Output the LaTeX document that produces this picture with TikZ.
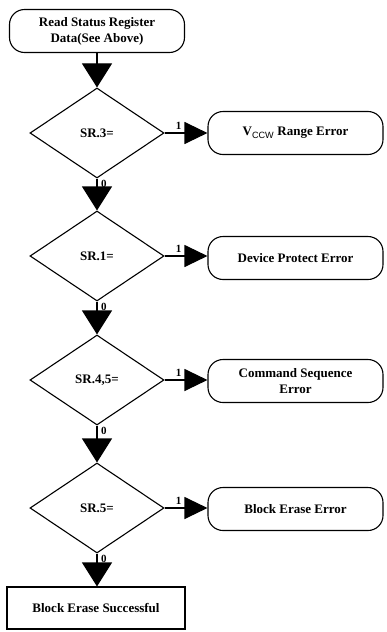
\documentclass[tikz,border=0pt]{standalone}
\usepackage{fontspec}
\setmainfont{Liberation Serif}
\setsansfont{Liberation Sans}
\usetikzlibrary{shapes.geometric,arrows.meta}
\begin{document}
\begin{tikzpicture}[x=1pt,y=-1pt,
  every node/.style={font=\bfseries\fontsize{13}{16}\selectfont},
  rbox/.style={draw,line width=1.1pt,rounded corners=15pt,minimum width=175pt,minimum height=43pt,align=center,inner sep=2pt},
  pbox/.style={draw,line width=1.1pt,minimum width=178pt,minimum height=42pt,align=center},
  dec/.style={draw,line width=1.1pt,shape=diamond,minimum width=134pt,minimum height=90pt,inner sep=0pt},
  vline/.style={line width=1.1pt,-{Triangle[length=24pt,width=30pt]}},
  hline/.style={line width=1.1pt,-{Triangle[length=23pt,width=22pt]}},
  lab/.style={font=\bfseries\fontsize{11}{13}\selectfont,inner sep=0pt}
]
\useasboundingbox (0,0) rectangle (387,632);
\node[rbox] (start) at (97,31) {Read Status Register\\Data(See Above)};
\node[dec] (d1) at (97,133) {SR.3=};
\node[dec] (d2) at (97,256) {SR.1=};
\node[dec] (d3) at (97,380) {SR.4,5=};
\node[dec] (d4) at (97,508) {SR.5=};
\node[rbox] (e1) at (295.5,133) {V\textsubscript{\sffamily\mdseries CCW} Range Error};
\node[rbox] (e2) at (295.5,258) {Device Protect Error};
\node[rbox] (e3) at (295.5,381) {Command Sequence\\Error};
\node[rbox] (e4) at (295.5,509) {Block Erase Error};
\node[pbox] (ok) at (96,608) {Block Erase Successful};
\draw[vline] (start) -- (d1);
\draw[vline] (d1) -- (d2);
\draw[vline] (d2) -- (d3);
\draw[vline] (d3) -- (d4);
\draw[vline] (d4.south) -- (ok.north -| d4.south);
\draw[hline] (d1.east) -- (e1.west |- d1.east);
\draw[hline] (d2.east) -- (e2.west |- d2.east);
\draw[hline] (d3.east) -- (e3.west |- d3.east);
\draw[hline] (d4.east) -- (e4.west |- d4.east);
\foreach \d in {d1,d2,d3,d4}{
  \node[lab,anchor=south] at ([xshift=14pt,yshift=3pt]\d.east) {1};
  \node[lab,anchor=north west] at ([xshift=4pt,yshift=-1pt]\d.south) {0};
}
\end{tikzpicture}
\end{document}
